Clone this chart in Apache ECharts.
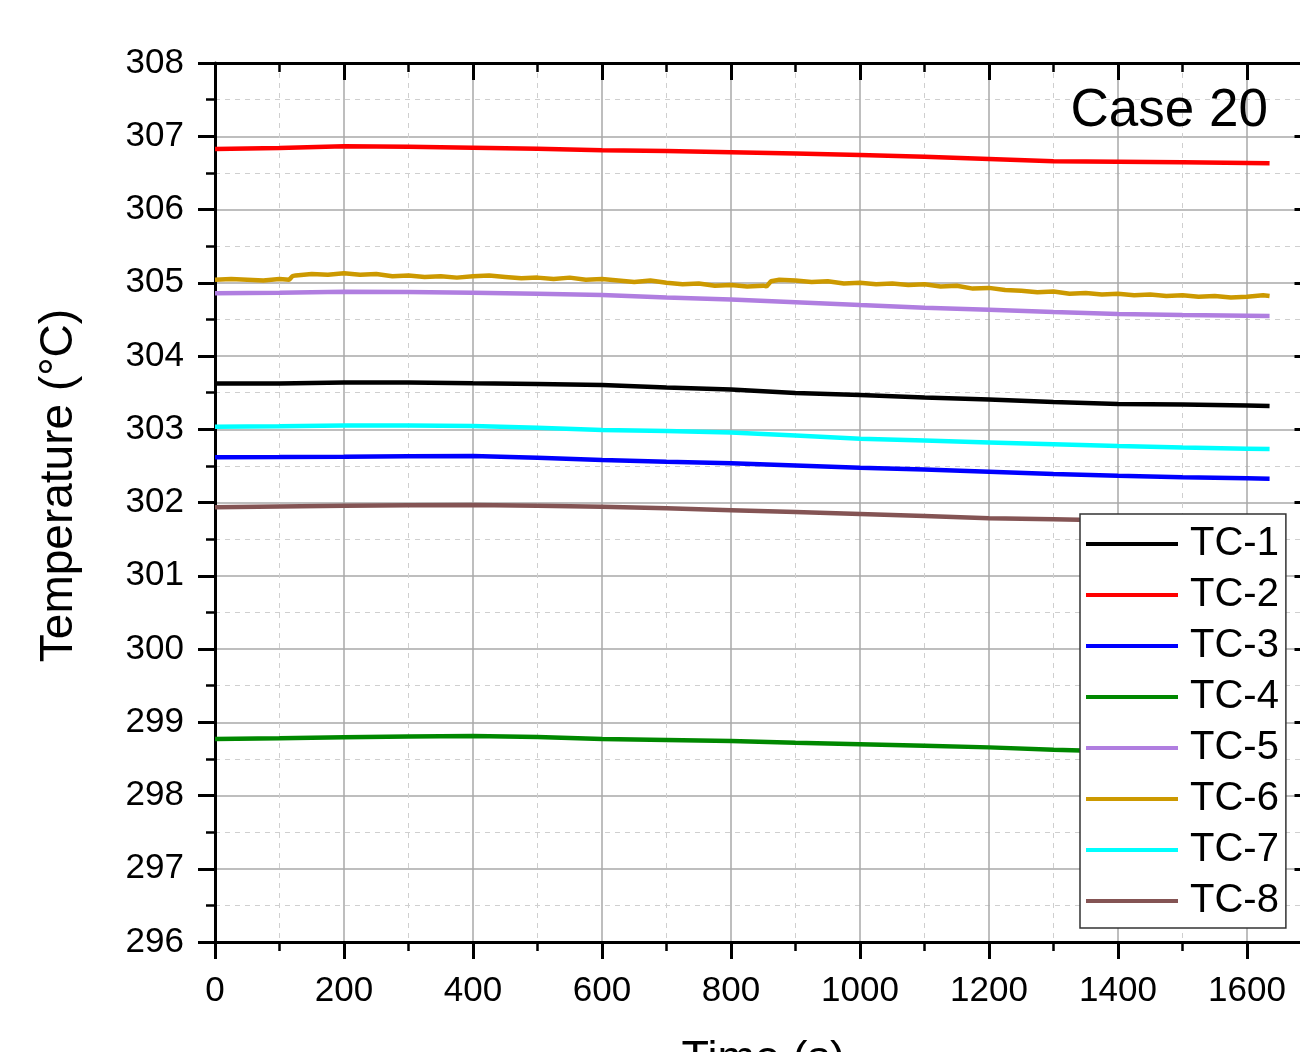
<!DOCTYPE html>
<html><head><meta charset="utf-8">
<script src="https://cdn.jsdelivr.net/npm/echarts@6/dist/echarts.min.js"></script>
<style>html,body{margin:0;padding:0;background:#fff}#c{width:1300px;height:1052px}</style>
</head><body><div id="c"></div><script>
// ---- data ----
var times = [0,100,200,300,400,500,600,700,800,900,1000,1100,1200,1300,1400,1500,1600,1635];
var tc1 = [303.625,303.625,303.638,303.638,303.627,303.618,303.604,303.570,303.543,303.495,303.468,303.433,303.406,303.372,303.345,303.338,303.324,303.317];
var tc2 = [306.826,306.840,306.865,306.857,306.844,306.830,306.810,306.800,306.783,306.765,306.744,306.720,306.690,306.660,306.653,306.645,306.635,306.630];
var tc3 = [302.617,302.620,302.625,302.632,302.635,302.610,302.580,302.555,302.535,302.505,302.475,302.450,302.420,302.390,302.366,302.345,302.330,302.325];
var tc4 = [298.771,298.780,298.794,298.805,298.812,298.800,298.770,298.757,298.743,298.720,298.700,298.680,298.657,298.625,298.600,298.585,298.570,298.565];
var tc5 = [304.856,304.865,304.878,304.875,304.865,304.850,304.833,304.800,304.770,304.735,304.696,304.660,304.630,304.600,304.575,304.560,304.550,304.546];
var tc7 = [303.035,303.040,303.050,303.050,303.045,303.020,302.990,302.975,302.955,302.915,302.870,302.845,302.820,302.795,302.770,302.750,302.735,302.730];
var tc8 = [301.934,301.945,301.955,301.962,301.966,301.955,301.943,301.920,301.895,301.870,301.843,301.815,301.784,301.770,301.755,301.745,301.735,301.730];
var times6 = [0,25,50,75,100,115,120,125,150,175,200,225,250,275,300,325,350,375,400,425,450,475,500,525,550,575,600,625,650,675,700,725,750,775,800,825,850,855,862,875,900,925,950,975,1000,1025,1050,1075,1100,1125,1150,1175,1200,1225,1250,1275,1300,1325,1350,1375,1400,1425,1450,1475,1500,1525,1550,1575,1600,1625,1635];
var tc6 = [305.04,305.05,305.04,305.03,305.05,305.04,305.09,305.10,305.12,305.11,305.13,305.11,305.12,305.09,305.10,305.08,305.09,305.07,305.09,305.10,305.08,305.06,305.07,305.05,305.07,305.04,305.05,305.03,305.01,305.03,305.00,304.98,304.99,304.96,304.97,304.95,304.96,304.95,305.02,305.04,305.03,305.01,305.02,304.99,305.00,304.98,304.99,304.97,304.98,304.95,304.96,304.92,304.93,304.90,304.89,304.87,304.88,304.85,304.86,304.84,304.85,304.83,304.84,304.82,304.83,304.81,304.82,304.80,304.81,304.83,304.82];
var seriesNames = ['TC-1','TC-2','TC-3','TC-4','TC-5','TC-6','TC-7','TC-8'];
var seriesColors = ['#000000','#ff0000','#0000ff','#008800','#b07ee0','#cc9900','#00ffff','#845454'];
var xTickLabels = ['0','200','400','600','800','1000','1200','1400','1600'];
var yTickLabels = ['296','297','298','299','300','301','302','303','304','305','306','307','308'];

function pairs(t, v){ var out=[]; for(var i=0;i<v.length;i++) out.push([t[i], v[i]]); return out; }
var seriesData = [pairs(times,tc1),pairs(times,tc2),pairs(times,tc3),pairs(times,tc4),pairs(times,tc5),pairs(times6,tc6),pairs(times,tc7),pairs(times,tc8)];

var FONT = '"Liberation Sans", Arial, sans-serif';
var chart = echarts.init(document.getElementById('c'), null, {renderer:'canvas'});

var tickStyle = {color:'#000', width:3};
var option = {
  backgroundColor:'#ffffff',
  animation:false,
  grid:{left:215, right:-11.5, top:63, bottom:110, containLabel:false, outerBoundsMode:'none'},
  xAxis:[{
    type:'value', min:0, max:1700, interval:200, position:'bottom',
    name:'Time (s)', nameLocation:'middle', nameGap:95,
    nameTextStyle:{fontSize:45, color:'#000', fontFamily:FONT},
    axisLine:{show:true, onZero:false, lineStyle:{color:'#000', width:3}},
    axisTick:{show:true, inside:false, length:17, lineStyle:tickStyle},
    minorTick:{show:true, splitNumber:2, length:9, lineStyle:{color:'#000', width:2.5}},
    axisLabel:{fontSize:35, color:'#000', margin:32, fontFamily:FONT,
      formatter:function(v){ var s=String(v); return xTickLabels.indexOf(s)>=0?s:''; }},
    splitLine:{show:true, lineStyle:{color:'#a8a8a8', width:1.5}},
    minorSplitLine:{show:true, lineStyle:{color:'#cfcfcf', width:1, type:[5,5]}}
  },{
    type:'value', min:0, max:1700, interval:200, position:'top',
    axisLine:{show:true, onZero:false, lineStyle:{color:'#000', width:3}},
    axisTick:{show:true, inside:true, length:17, lineStyle:tickStyle},
    minorTick:{show:true, splitNumber:2, length:9, lineStyle:{color:'#000', width:2.5}},
    axisLabel:{show:false}, splitLine:{show:false}
  }],
  yAxis:[{
    type:'value', min:296, max:308, interval:1, position:'left',
    name:'Temperature (°C)', nameLocation:'middle', nameGap:133,
    nameTextStyle:{fontSize:46, color:'#000', fontFamily:FONT, padding:[0,0,0,34]},
    axisLine:{show:true, onZero:false, lineStyle:{color:'#000', width:3}},
    axisTick:{show:true, inside:false, length:17, lineStyle:tickStyle},
    minorTick:{show:true, splitNumber:2, length:9, lineStyle:{color:'#000', width:2.5}},
    axisLabel:{fontSize:35, color:'#000', margin:31, fontFamily:FONT,
      formatter:function(v){ var s=String(v); return yTickLabels.indexOf(s)>=0?s:''; }},
    splitLine:{show:true, lineStyle:{color:'#a8a8a8', width:1.5}},
    minorSplitLine:{show:true, lineStyle:{color:'#cfcfcf', width:1, type:[5,5]}}
  },{
    type:'value', min:296, max:308, interval:1, position:'right',
    axisLine:{show:true, onZero:false, lineStyle:{color:'#000', width:3}},
    axisTick:{show:true, inside:true, length:17, lineStyle:tickStyle},
    minorTick:{show:true, splitNumber:2, length:9, lineStyle:{color:'#000', width:2.5}},
    axisLabel:{show:false}, splitLine:{show:false}
  }],
  legend:{
    orient:'vertical', left:1080, top:514,
    data:seriesNames,
    icon:'rect', itemWidth:92, itemHeight:4, itemGap:11,
    padding:[10,7,7,6],
    backgroundColor:'#ffffff', borderColor:'#333333', borderWidth:1.5,
    textStyle:{fontSize:40, lineHeight:38, color:'#000', fontFamily:FONT, padding:[0,0,0,7]}
  },
  graphic:[{
    type:'text', x:1268, y:111, z:10,
    style:{text:'Case 20', fontSize:53, fontFamily:FONT, fill:'#000', align:'right', verticalAlign:'middle'}
  }],
  series: seriesNames.map(function(n,i){
    return {
      name:n, type:'line', xAxisIndex:0, yAxisIndex:0,
      data:seriesData[i], showSymbol:false, symbol:'none',
      lineStyle:{color:seriesColors[i], width:4.5},
      itemStyle:{color:seriesColors[i]},
      z:3
    };
  })
};
chart.setOption(option);
</script></body></html>
